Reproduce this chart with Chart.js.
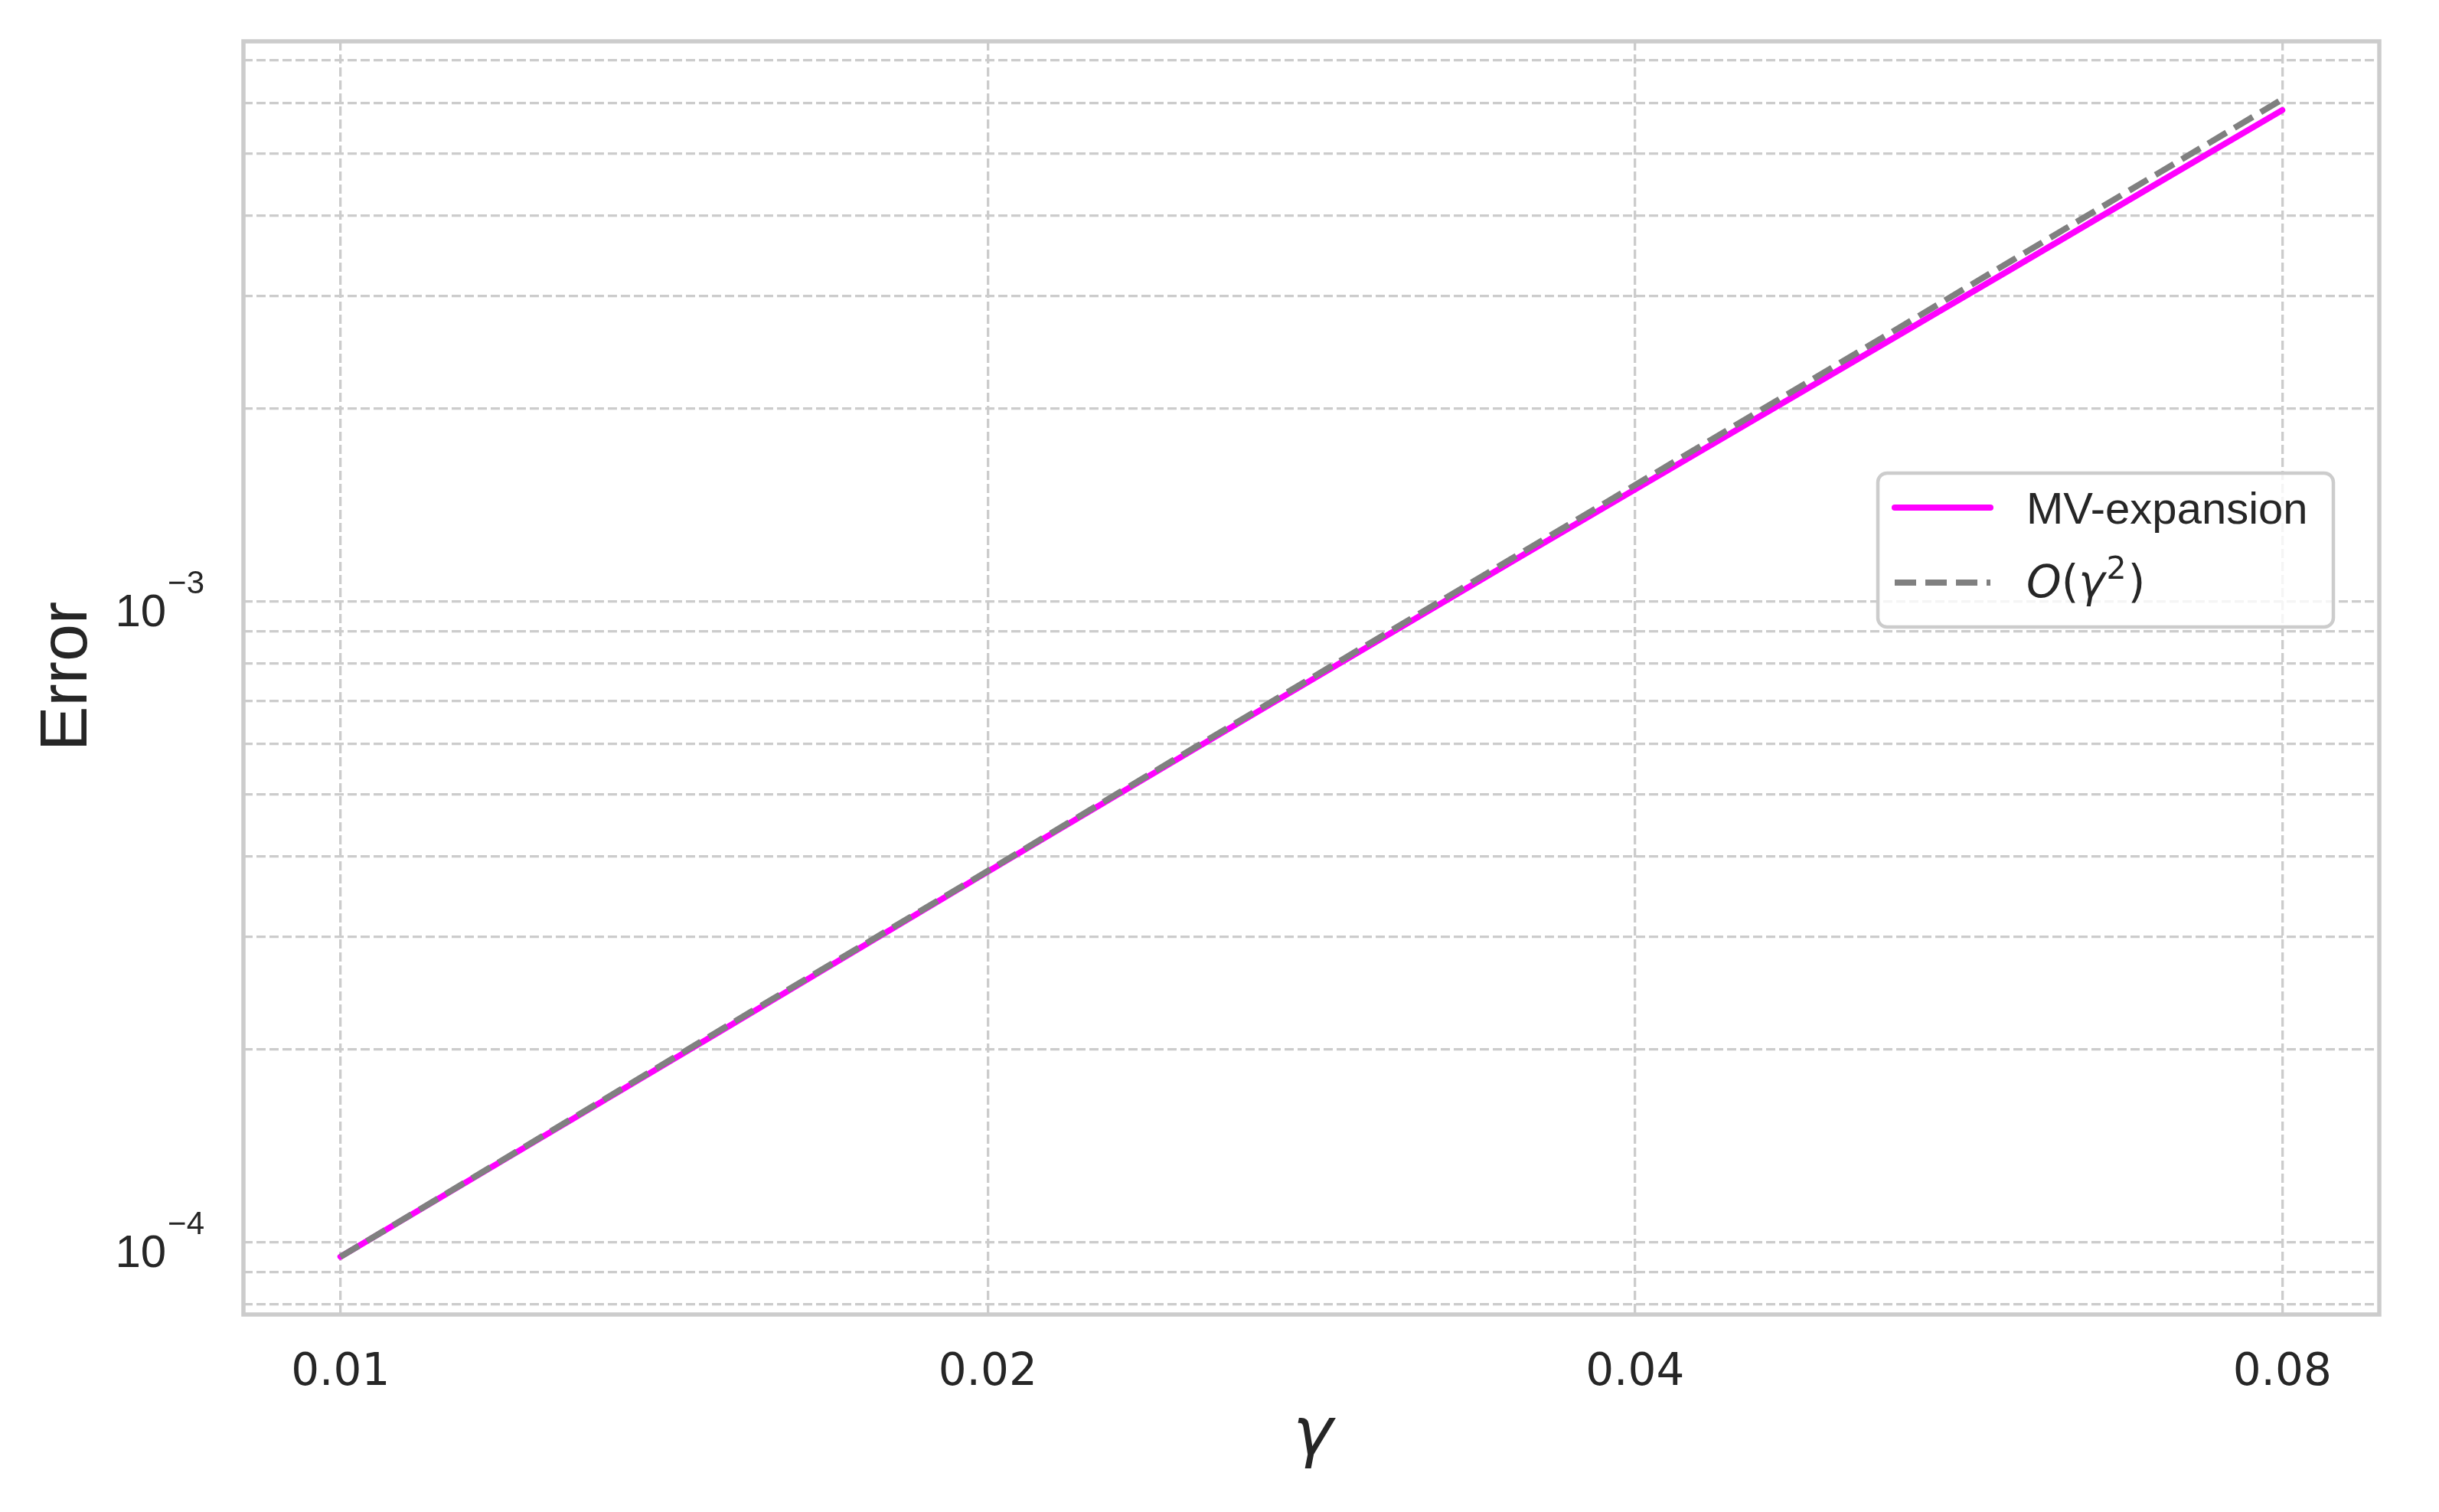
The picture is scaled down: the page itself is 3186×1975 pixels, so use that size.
<!DOCTYPE html>
<html>
<head>
<meta charset="utf-8">
<script src="https://cdn.jsdelivr.net/npm/chart.js@4.4.1/dist/chart.umd.min.js"></script>
<style>
  html, body { margin: 0; padding: 0; background: #ffffff; }
  canvas { display: block; }
</style>
</head>
<body>
<canvas id="errorChart" width="3186" height="1975"></canvas>
<script>
// values (log-log)
const gammaValues = [0.01, 0.015, 0.02, 0.025, 0.03, 0.035, 0.04, 0.05, 0.06, 0.07, 0.08];
const mvError   = [9.50e-5, 2.13e-4, 3.79e-4, 5.91e-4, 8.48e-4, 1.151e-3, 1.497e-3, 2.32e-3, 3.32e-3, 4.50e-3, 5.85e-3];
const orderRef  = [9.50e-5, 2.14e-4, 3.80e-4, 5.94e-4, 8.55e-4, 1.164e-3, 1.52e-3, 2.375e-3, 3.42e-3, 4.655e-3, 6.08e-3];
const seriesLabels = ["MV-expansion", "O(γ²)"];

const xTickValues = [0.01, 0.02, 0.04, 0.08];
const xTickLabels = ["0.01", "0.02", "0.04", "0.08"];
const yGridValues = [8e-5, 9e-5, 1e-4, 2e-4, 3e-4, 4e-4, 5e-4, 6e-4, 7e-4, 8e-4, 9e-4,
                     1e-3, 2e-3, 3e-3, 4e-3, 5e-3, 6e-3, 7e-3];
const yTickValues = [1e-4, 1e-3];
const yTickBases = ["10", "10"];
const yTickExponents = ["\u22124", "\u22123"];

const xMin = 0.009013, xMax = 0.08876;
const yMin = 7.72e-5, yMax = 7.49e-3;

const textColor = "#262626";
const gridColor = "#cccccc";

function toPoints(ys) {
  return gammaValues.map((g, i) => ({ x: g, y: ys[i] }));
}

// draws a label like O(γ²) the way mathtext would
function drawMathLabel(ctx, text, x, y, size) {
  let cx = x;
  for (const ch of text) {
    if (ch === "²") {
      ctx.font = Math.round(size * 0.7) + "px 'DejaVu Sans'";
      ctx.fillText("2", cx + 2, y - size * 0.42);
      cx += ctx.measureText("2").width + 4;
    } else if (/[A-Za-zα-ω]/.test(ch)) {
      ctx.font = "italic " + size + "px 'DejaVu Sans'";
      ctx.fillText(ch, cx, y);
      cx += ctx.measureText(ch).width;
    } else {
      ctx.font = size + "px 'DejaVu Sans'";
      ctx.fillText(ch, cx, y);
      cx += ctx.measureText(ch).width;
    }
  }
}

const overlay = {
  id: "overlay",
  afterDraw(chart) {
    const ctx = chart.ctx;
    const a = chart.chartArea;
    const xs = chart.scales.x, ys = chart.scales.y;
    ctx.save();

    // axes frame
    ctx.setLineDash([]);
    ctx.strokeStyle = gridColor;
    ctx.lineWidth = 5.5;
    ctx.strokeRect(a.left, a.top, a.right - a.left, a.bottom - a.top);

    ctx.fillStyle = textColor;
    ctx.textBaseline = "alphabetic";

    // x tick labels
    ctx.font = "58px 'DejaVu Sans'";
    ctx.textAlign = "center";
    xTickValues.forEach((v, i) => {
      ctx.fillText(xTickLabels[i], xs.getPixelForValue(v), a.bottom + 92);
    });

    // y tick labels 10^n
    ctx.textAlign = "left";
    yTickValues.forEach((v, i) => {
      const py = ys.getPixelForValue(v);
      ctx.font = "42px 'Liberation Sans'";
      const we = ctx.measureText(yTickExponents[i]).width;
      ctx.font = "60px 'Liberation Sans'";
      const wb = ctx.measureText(yTickBases[i]).width;
      const right = a.left - 51;
      const start = right - we - wb - 2;
      ctx.fillText(yTickBases[i], start, py + 32);
      ctx.font = "42px 'Liberation Sans'";
      ctx.fillText(yTickExponents[i], start + wb + 2, py - 11);
    });

    // axis titles
    ctx.font = "italic 88px 'DejaVu Sans'";
    ctx.textAlign = "center";
    ctx.fillText("γ", (a.left + a.right) / 2 + 2, a.bottom + 183);

    ctx.save();
    ctx.translate(113, (a.top + a.bottom) / 2 - 2);
    ctx.rotate(-Math.PI / 2);
    ctx.font = "88px 'Liberation Sans'";
    ctx.fillText("Error", 0, 0);
    ctx.restore();

    // legend
    const bx = a.right - 655, by = a.top + 564, bw = 595, bh = 201;
    ctx.beginPath();
    ctx.roundRect(bx, by, bw, bh, 12);
    ctx.fillStyle = "rgba(255,255,255,0.8)";
    ctx.fill();
    ctx.lineWidth = 4.5;
    ctx.strokeStyle = gridColor;
    ctx.stroke();

    chart.data.datasets.forEach((ds, i) => {
      const ly = by + 45 + i * 98;
      ctx.beginPath();
      ctx.setLineDash(ds.borderDash || []);
      ctx.lineCap = ds.borderCapStyle || "butt";
      ctx.lineWidth = ds.borderWidth;
      ctx.strokeStyle = ds.borderColor;
      ctx.moveTo(bx + 22, ly);
      ctx.lineTo(bx + 147, ly);
      ctx.stroke();
      ctx.setLineDash([]);
      ctx.fillStyle = textColor;
      ctx.textAlign = "left";
      if (ds.label.includes("²")) {
        drawMathLabel(ctx, ds.label, bx + 194, ly + 19, 58);
      } else {
        ctx.font = "58px 'Liberation Sans'";
        ctx.fillText(ds.label, bx + 194, ly + 21);
      }
    });

    ctx.restore();
  }
};

function gridOptions() {
  return {
    color: gridColor,
    lineWidth: 3.3,
    drawTicks: false
  };
}

new Chart(document.getElementById("errorChart"), {
  type: "line",
  data: {
    datasets: [
      {
        label: seriesLabels[0],
        data: toPoints(mvError),
        borderColor: "#ff00ff",
        borderWidth: 8,
        borderCapStyle: "round",
        borderJoinStyle: "round",
        pointRadius: 0,
        fill: false,
        tension: 0,
        order: 1
      },
      {
        label: seriesLabels[1],
        data: toPoints(orderRef),
        borderColor: "#808080",
        borderWidth: 8,
        borderDash: [28, 12],
        borderCapStyle: "butt",
        pointRadius: 0,
        fill: false,
        tension: 0,
        order: 0
      }
    ]
  },
  options: {
    responsive: false,
    animation: false,
    devicePixelRatio: 1,
    layout: {
      autoPadding: false,
      padding: { left: 318, right: 78, top: 54, bottom: 258 }
    },
    plugins: {
      legend: { display: false },
      tooltip: { enabled: false }
    },
    scales: {
      x: {
        type: "logarithmic",
        min: xMin,
        max: xMax,
        afterBuildTicks: axis => { axis.ticks = xTickValues.map(v => ({ value: v })); },
        ticks: { display: false },
        grid: gridOptions(),
        border: { display: false, dash: [12, 5] }
      },
      y: {
        type: "logarithmic",
        min: yMin,
        max: yMax,
        afterBuildTicks: axis => { axis.ticks = yGridValues.map(v => ({ value: v })); },
        ticks: { display: false },
        grid: gridOptions(),
        border: { display: false, dash: [12, 5] }
      }
    }
  },
  plugins: [overlay]
});
</script>
</body>
</html>
